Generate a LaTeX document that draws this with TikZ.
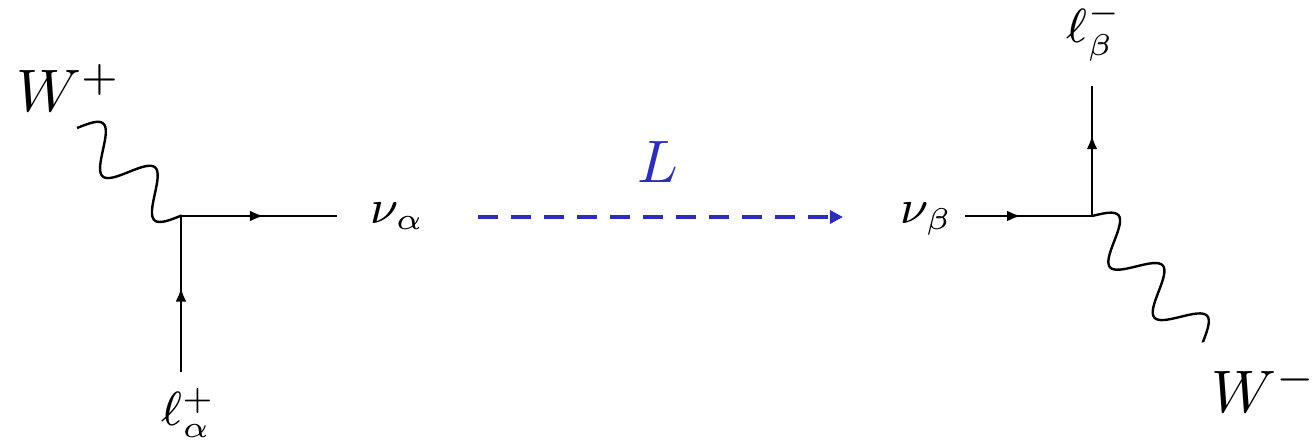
\documentclass[tikz,border=0pt]{standalone}
\usepackage{amsmath,amssymb}
\usepackage{tikz}
\usetikzlibrary{arrows.meta, decorations, decorations.markings}
\usepackage{xcolor}
\definecolor{lblue}{RGB}{45,45,185}
% sine wave for the W lines
\pgfdeclaredecoration{wave}{draw}{
  \state{draw}[width=+0.03125\pgfdecorationsegmentlength]{
    \pgfmathsetmacro\wavey{\pgfdecorationsegmentamplitude*sin(360*(\pgfdecoratedcompleteddistance+0.03125*\pgfdecorationsegmentlength)/\pgfdecorationsegmentlength)}
    \pgfpathlineto{\pgfqpoint{0.03125\pgfdecorationsegmentlength}{\wavey pt}}
  }
  \state{final}{\pgfpathlineto{\pgfpointdecoratedpathlast}}
}

\begin{document}
\begin{tikzpicture}[x=0.16667pt, y=0.16667pt,
  fermion/.style={postaction={decorate}, decoration={markings, mark=at position #1 with {\arrow{Latex[length=2.3pt,width=1.8pt]}}}},
  photon/.style={decorate, decoration={wave, segment length=#1, amplitude=3.4pt}},
  lbl/.style={font=\fontsize{7.6}{9}\selectfont, inner sep=0pt, anchor=base west},
  biglbl/.style={inner sep=0pt, anchor=base west}]
  \useasboundingbox (0,0) rectangle (1313,443);
  % production vertex
  \coordinate (va) at (181,227);
  \coordinate (wp) at (77,315);
  \coordinate (na) at (337,227);
  \coordinate (la) at (181,71);
  % detection vertex
  \coordinate (vb) at (1092,227);
  \coordinate (nb) at (965,227);
  \coordinate (lb) at (1092,357);
  \coordinate (wm) at (1203,101);
  % baseline
  \coordinate (ls) at (478,226);
  \coordinate (le) at (843,226);
  \node[biglbl] (Wp) at (15,331) {$W^+$};
  \node[lbl] (nua) at (369,220) {$\nu_\alpha$};
  \node[lbl] (lap) at (160,18) {$\ell_\alpha^+$};
  \node[biglbl, text=lblue] (len) at (636,261) {$L$};
  \node[lbl] (nub) at (899,220) {$\nu_\beta$};
  \node[lbl] (lbm) at (1065,400) {$\ell_\beta^-$};
  \node[biglbl] (Wm) at (1210,31) {$W^-$};
  \draw[photon=11.33pt] (wp) -- (va);
  \draw[fermion=0.53] (va) -- (na);
  \draw[fermion=0.54] (la) -- (va);
  \draw[fermion=0.44] (nb) -- (vb);
  \draw[fermion=0.62] (vb) -- (lb);
  \draw[photon=11.19pt] (vb) -- (wm);
  \draw[lblue, line width=0.7pt, dash pattern=on 3.3pt off 2.2pt, -{Triangle[length=2.2pt,width=2.2pt]}] (ls) -- (le);
\end{tikzpicture}
\end{document}
